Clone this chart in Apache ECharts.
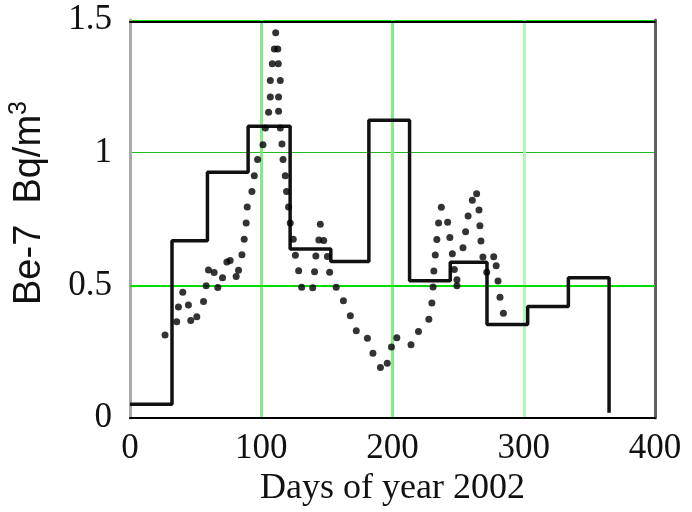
<!DOCTYPE html>
<html>
<head>
<meta charset="utf-8">
<script src="https://cdn.jsdelivr.net/npm/echarts@6/dist/echarts.min.js"></script>
<style>html,body{margin:0;padding:0;background:#fff;}#c{width:692px;height:512px;}</style>
</head>
<body>
<div id="c"></div>
<script>
// Monthly step series: bin start days and values
const stepStarts = [0, 32, 59, 90, 122, 153, 182, 213, 244, 272, 303, 334];
const stepValues = [0.052, 0.668, 0.926, 1.10, 0.637, 0.590, 1.122, 0.517, 0.587, 0.352, 0.42, 0.529];
const stepEndDay = 365;
const stepEndValue = 0.02;

// Dotted (daily) series: [day, Bq/m3]
const dotPoints = [
  [26.7,0.313],[35.6,0.363],[36.9,0.418],[40.2,0.474],[44.5,0.426],[46.3,0.367],[50.9,0.382],
  [56.0,0.439],[58.0,0.498],[59.8,0.558],[64.1,0.548],[66.9,0.492],[70.5,0.529],[73.8,0.588],
  [76.3,0.594],[80.9,0.533],[82.7,0.557],[85.3,0.615],[87.0,0.674],[88.5,0.735],[89.3,0.795],
  [92.9,0.854],[94.7,0.913],[97.2,0.974],[101.3,1.030],[103.1,1.093],[105.6,1.152],[106.9,1.210],
  [106.9,1.272],[108.4,1.335],[110.0,1.391],[111.0,1.452],[112.6,1.391],[113.0,1.335],[114.5,1.272],
  [113.2,1.210],[113.2,1.156],[114.5,1.093],[115.8,1.033],[116.6,0.974],[118.3,0.913],[119.3,0.854],
  [120.8,0.795],[122.1,0.735],[124.4,0.674],[126.0,0.613],[128.5,0.555],[130.8,0.493],[139.2,0.491],
  [140.6,0.551],[141.6,0.611],[143.9,0.671],[147.6,0.669],[145.0,0.730],[150.4,0.609],[152.1,0.549],
  [157.1,0.493],[162.6,0.442],[167.9,0.385],[172.4,0.329],[180.9,0.301],[185.1,0.244],[190.8,0.190],
  [196.0,0.206],[199.2,0.268],[203.3,0.302],[214.1,0.276],[219.8,0.326],[227.7,0.372],[230.0,0.433],
  [230.9,0.494],[231.5,0.554],[232.6,0.614],[233.8,0.673],[235.1,0.735],[237.2,0.794],[242.0,0.738],
  [243.7,0.680],[245.6,0.619],[247.1,0.560],[249.1,0.521],[249.1,0.498],[253.7,0.642],[255.7,0.702],
  [257.6,0.761],[260.8,0.821],[264.1,0.845],[265.9,0.784],[266.6,0.725],[267.4,0.667],[268.9,0.607],
  [271.8,0.549],[277.1,0.608],[279.0,0.574],[280.4,0.516],[281.9,0.455],[284.5,0.395]
];

const xTicks = [0, 100, 200, 300, 400];
const yTicks = [0, 0.5, 1, 1.5];
const xTitle = 'Days of year 2002';
const yTitleMain = 'Be-7  Bq/m';
const yTitleSup = '3';
const boldGridValue = 0.5;

const stepData = stepStarts.map((d, i) => [d, stepValues[i]]);
stepData.push([stepEndDay, stepValues[stepValues.length - 1]]);
stepData.push([stepEndDay, stepEndValue]);

const chart = echarts.init(document.getElementById('c'), null, {renderer: 'canvas'});
const serif = '"Liberation Serif", "Times New Roman", serif';
chart.setOption({
  animation: false,
  backgroundColor: '#ffffff',
  grid: {left: 130, right: 37, top: 20, bottom: 94, show: false},
  xAxis: [{
    type: 'value', min: xTicks[0], max: xTicks[xTicks.length - 1], interval: 100,
    position: 'bottom',
    axisLine: {show: true, onZero: false, lineStyle: {color: '#000', width: 2}},
    axisTick: {show: false},
    axisLabel: {color: '#111', fontFamily: serif, fontSize: 35, margin: 13},
    splitLine: {show: true, lineStyle: {color: ['rgba(0,0,0,0)', '#80ee80', '#80ee80', '#b8f4b8', 'rgba(0,0,0,0)'], width: 3}},
    name: xTitle, nameLocation: 'middle', nameGap: 51,
    nameTextStyle: {color: '#111', fontFamily: serif, fontSize: 36}
  }, {
    type: 'value', min: 0, max: 400, position: 'top', offset: -1.5,
    axisLine: {show: true, onZero: false, lineStyle: {color: '#000', width: 2}},
    axisTick: {show: false}, axisLabel: {show: false}, splitLine: {show: false}
  }],
  yAxis: [{
    type: 'value', min: yTicks[0], max: yTicks[yTicks.length - 1], interval: 0.5,
    position: 'left',
    axisLine: {show: true, onZero: false, lineStyle: {color: '#aaaaaa', width: 3}},
    axisTick: {show: false},
    axisLabel: {color: '#111', fontFamily: serif, fontSize: 35, margin: 18},
    splitLine: {show: true, lineStyle: {color: ['rgba(0,0,0,0)', '#00dd00', '#22bb22', '#00dd00'], width: 1}}
  }, {
    type: 'value', min: 0, max: 1.5, position: 'right',
    axisLine: {show: true, onZero: false, lineStyle: {color: '#606060', width: 3}},
    axisTick: {show: false}, axisLabel: {show: false}, splitLine: {show: false}
  }],
  graphic: [{
    type: 'text', x: 30, y: 203, rotation: Math.PI / 2,
    style: {
      text: yTitleMain + '{sup|' + yTitleSup + '}',
      fill: '#111',
      font: '38px "Liberation Sans", Arial, sans-serif',
      align: 'center', verticalAlign: 'middle',
      rich: {sup: {fontSize: 25, fontFamily: '"Liberation Sans", Arial, sans-serif', fill: '#111', padding: [0, 0, 22, 0]}}
    }
  }],
  series: [{
    type: 'line', data: stepData, step: 'end', showSymbol: false, symbol: 'none',
    lineStyle: {color: '#111', width: 3.5}, z: 3,
    markLine: {
      silent: true, symbol: 'none', label: {show: false},
      lineStyle: {color: '#00dd00', width: 2, type: 'solid'},
      data: [{yAxis: boldGridValue}], z: 1
    }
  }, {
    type: 'scatter', data: dotPoints, symbol: 'circle', symbolSize: 7,
    itemStyle: {color: '#000'}, z: 4
  }]
});
</script>
</body>
</html>
